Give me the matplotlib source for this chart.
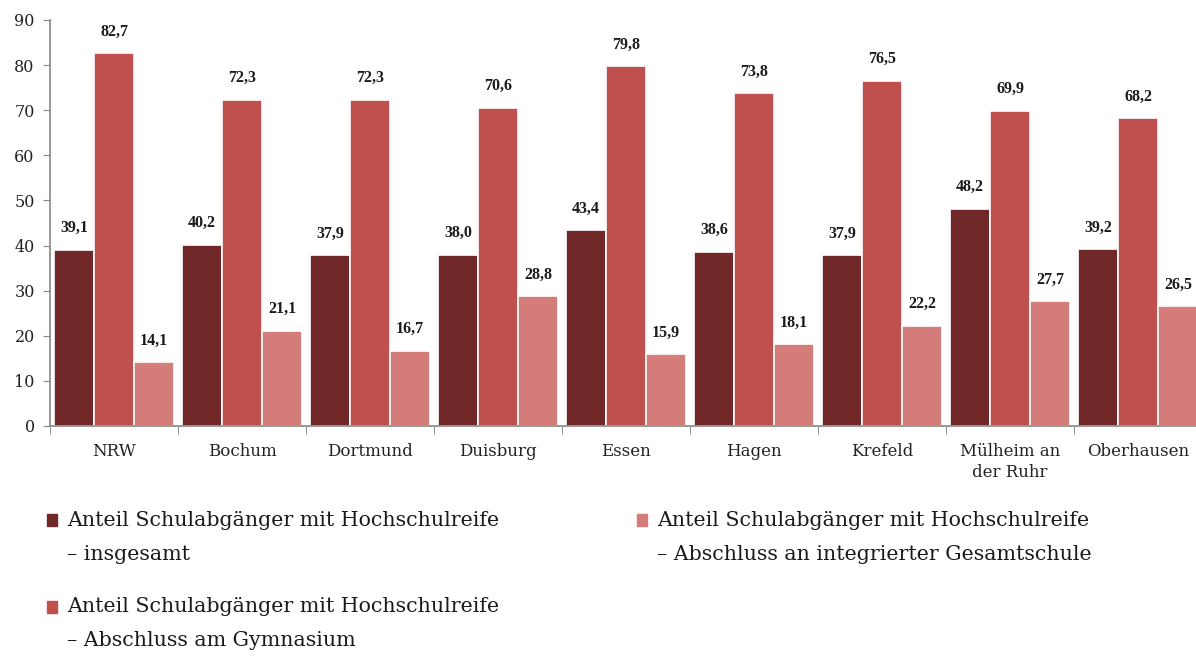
import numpy as np
import matplotlib
matplotlib.use("Agg")
import matplotlib.pyplot as plt

# data
cities = ["NRW", "Bochum", "Dortmund", "Duisburg", "Essen", "Hagen",
          "Krefeld", "Mülheim an\nder Ruhr", "Oberhausen"]
gesamt = [39.1, 40.2, 37.9, 38.0, 43.4, 38.6, 37.9, 48.2, 39.2]
gymnasium = [82.7, 72.3, 72.3, 70.6, 79.8, 73.8, 76.5, 69.9, 68.2]
gesamtschule = [14.1, 21.1, 16.7, 28.8, 15.9, 18.1, 22.2, 27.7, 26.5]

series = [gesamt, gymnasium, gesamtschule]
colors = ["#712829", "#C0504D", "#D47C7A"]
legend_text = [
    "Anteil Schulabgänger mit Hochschulreife\n– insgesamt",
    "Anteil Schulabgänger mit Hochschulreife\n– Abschluss am Gymnasium",
    "Anteil Schulabgänger mit Hochschulreife\n– Abschluss an integrierter Gesamtschule",
]

plt.rcParams['font.family'] = ['Liberation Serif', 'DejaVu Serif']
wide = ['DejaVu Serif']  # wider serif, closer to the Garamond widths of the original

W, H = 1196, 657
fig = plt.figure(figsize=(W / 100, H / 100), dpi=100)
# axes pixel box: x 50..1202, y 20..426
ax = fig.add_axes([50 / W, (H - 426) / H, 1152 / W, 406 / H])

x = np.arange(len(cities))
bw = 0.3125
for i, (vals, col) in enumerate(zip(series, colors)):
    pos = x + (i - 1) * bw
    bars = ax.bar(pos, vals, width=bw, color=col, edgecolor="white", linewidth=1.2)
    for b, v in zip(bars, vals):
        ax.text(b.get_x() + b.get_width() / 2, v + 3.0, f"{v:.1f}".replace(".", ","),
                ha="center", va="bottom", fontsize=11.5, fontweight="bold", color="#1a1a1a")

ax.set_xlim(-0.5, len(cities) - 0.5)
ax.set_ylim(0, 90)
ax.set_yticks(range(0, 91, 10))
ax.tick_params(axis="y", labelsize=12, length=5, color="#888888", pad=6, labelcolor="#222222")
for lab in ax.get_yticklabels():
    lab.set_family(wide)
    lab.set_fontsize(11.5)
ax.set_xticks(x)
ax.set_xticklabels(cities, fontsize=12, color="#222222", family=wide, linespacing=1.3)
ax.tick_params(axis="x", length=0, pad=12)
# group boundary ticks
ax.set_xticks(np.arange(-0.5, len(cities), 1), minor=True)
ax.tick_params(axis="x", which="minor", length=6, color="#888888")

for s in ["top", "right"]:
    ax.spines[s].set_visible(False)
for s in ["left", "bottom"]:
    ax.spines[s].set_color("#888888")
    ax.spines[s].set_linewidth(1.2)

# legend drawn by hand in a 2-column layout
leg_pos = [(47, 520), (47, 607), (637, 520)]
for (px, py), col, txt in zip(leg_pos, colors, legend_text):
    fig.patches.append(plt.Rectangle(((px) / W, (H - py - 6) / H), 10 / W, 12 / H,
                                     transform=fig.transFigure, color=col))
    line1, line2 = txt.split("\n")
    fig.text((px + 20) / W, (H - py) / H, line1, fontsize=14.8, va="center",
             color="#1a1a1a", family=wide)
    fig.text((px + 20) / W, (H - py - 34) / H, line2, fontsize=14.8, va="center",
             color="#1a1a1a", family=wide)

fig.savefig("out.png", dpi=100)
